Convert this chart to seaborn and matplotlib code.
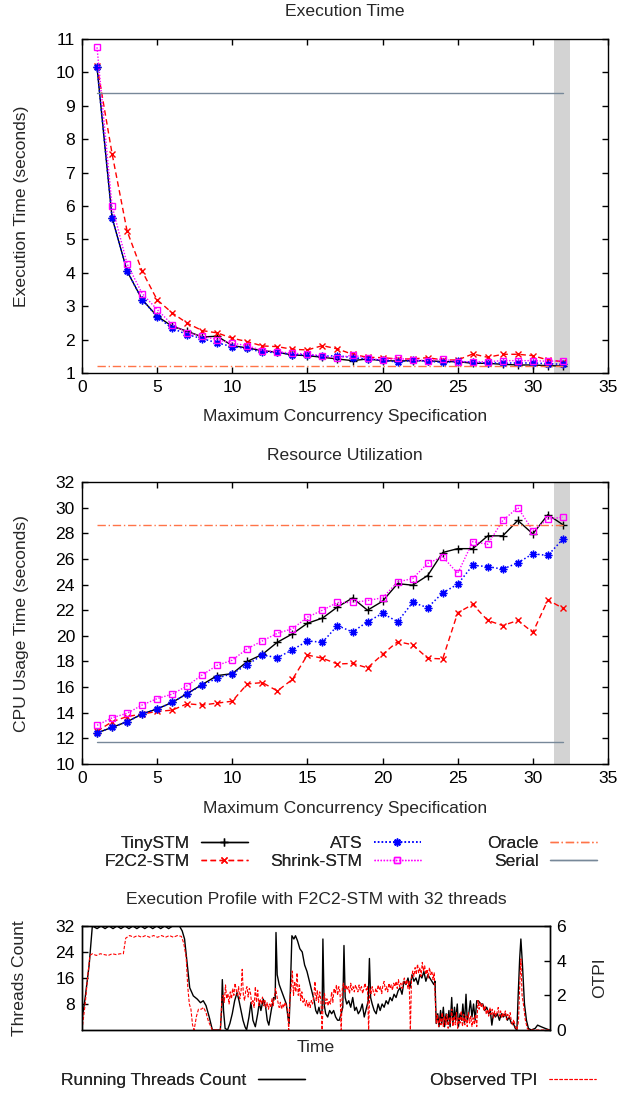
import matplotlib
matplotlib.use("Agg")
import matplotlib.pyplot as plt
import seaborn as sns

# ---------------- data ----------------
concurrency = list(range(1, 33))

exec_tinystm = [10.15, 5.65, 4.05, 3.2, 2.7, 2.4, 2.25, 2.08, 2.1, 1.82, 1.75, 1.67, 1.62, 1.54, 1.52,
                1.47, 1.42, 1.37, 1.42, 1.37, 1.36, 1.37, 1.37, 1.34, 1.34, 1.29, 1.29, 1.26, 1.24, 1.24,
                1.22, 1.21]
exec_f2c2 = [10.2, 7.57, 5.25, 4.05, 3.19, 2.8, 2.49, 2.27, 2.2, 2.04, 1.94, 1.81, 1.79, 1.71, 1.69,
             1.82, 1.72, 1.56, 1.47, 1.46, 1.42, 1.42, 1.46, 1.39, 1.39, 1.57, 1.47, 1.56, 1.56, 1.52,
             1.39, 1.34]
exec_ats = [10.15, 5.65, 4.05, 3.2, 2.68, 2.34, 2.15, 2.03, 1.9, 1.79, 1.74, 1.62, 1.62, 1.55, 1.55,
            1.5, 1.52, 1.46, 1.42, 1.38, 1.33, 1.38, 1.35, 1.32, 1.35, 1.32, 1.3, 1.3, 1.3, 1.3,
            1.28, 1.26]
exec_shrink = [10.75, 6.0, 4.27, 3.38, 2.9, 2.45, 2.21, 2.1, 2.0, 1.89, 1.82, 1.67, 1.64, 1.59, 1.57,
               1.51, 1.44, 1.54, 1.44, 1.39, 1.44, 1.39, 1.37, 1.42, 1.34, 1.34, 1.34, 1.37, 1.37, 1.37,
               1.35, 1.37]
exec_serial = 9.38
exec_oracle = 1.2

cpu_tinystm = [12.42, 12.86, 13.3, 13.9, 14.3, 14.8, 15.5, 16.2, 16.9, 17.05, 18.0, 18.55, 19.5, 20.15,
               20.98, 21.38, 22.25, 22.95, 22.0, 22.7, 24.07, 23.95, 24.7, 26.5, 26.8, 26.8, 27.8, 27.8,
               29.0, 27.95, 29.45, 28.67]
cpu_f2c2 = [12.55, 13.3, 13.7, 13.9, 14.1, 14.2, 14.7, 14.6, 14.75, 14.9, 16.25, 16.35, 15.7, 16.6,
            18.5, 18.25, 17.8, 17.85, 17.5, 18.55, 19.55, 19.3, 18.25, 18.2, 21.8, 22.45, 21.2, 20.8,
            21.2, 20.27, 22.8, 22.15]
cpu_ats = [12.42, 12.86, 13.3, 13.9, 14.3, 14.8, 15.5, 16.15, 16.7, 17.05, 17.75, 18.5, 18.3, 18.9,
           19.6, 19.5, 20.8, 20.3, 21.1, 21.75, 21.1, 22.6, 22.2, 23.35, 24.03, 25.5, 25.4, 25.2,
           25.7, 26.4, 26.27, 27.55]
cpu_shrink = [13.02, 13.6, 13.96, 14.6, 15.1, 15.45, 16.1, 16.95, 17.7, 18.1, 19.0, 19.6, 20.2, 20.55,
              21.45, 22.0, 22.6, 22.6, 22.75, 22.97, 24.2, 24.47, 25.65, 26.17, 24.87, 27.35, 27.14,
              29.0, 30.0, 28.2, 29.1, 29.26]
cpu_serial = 11.7
cpu_oracle = 28.63

# execution profile of F2C2-STM with 32 threads (time in sampling ticks)
profile_time_threads = [0, 8, 18, 26, 38, 48, 58, 68, 78, 88, 98, 108, 118, 128, 138, 148, 158, 168, 178,
                        188, 198, 208, 218, 228, 245, 252, 258, 265, 271, 280, 290, 298, 305, 312, 320,
                        328, 348, 351, 353, 356, 360, 366, 372, 378, 384, 390, 395, 400, 405, 410, 414,
                        420, 425, 430, 436, 442, 446, 450, 456, 462, 466, 470, 476, 482, 486, 488, 491,
                        496, 502, 508, 514, 518, 521, 524, 528, 533, 537, 542, 548, 554, 560, 566, 572,
                        578, 584, 588, 592, 596, 600, 604, 606, 609, 613, 618, 623, 628, 633, 638, 643,
                        647, 652, 656, 659, 662, 666, 671, 676, 681, 686, 690, 695, 700, 705, 710, 714,
                        720, 723, 726, 730, 735, 740, 745, 750, 755, 760, 765, 770, 775, 780, 785, 790,
                        795, 800, 805, 810, 815, 820, 825, 830, 835, 840, 845, 850, 855, 860, 865, 870,
                        875, 880, 885, 888, 891, 895, 898, 902, 905, 909, 912, 916, 919, 923, 926, 930,
                        933, 937, 940, 944, 947, 951, 955, 958, 962, 966, 969, 973, 977, 981, 985, 989,
                        993, 997, 1003, 1008, 1013, 1018, 1023, 1027, 1031, 1035, 1040, 1045, 1050, 1055,
                        1060, 1065, 1070, 1075, 1080, 1085, 1090, 1094, 1097, 1101, 1104, 1108, 1113,
                        1118, 1123, 1130, 1140, 1146, 1155, 1165, 1176]
running_threads = [3, 10, 20, 32, 31.2, 32, 31.2, 32, 31.2, 32, 31.2, 32, 31.2, 32, 31.2, 32, 31.2, 32,
                   31.2, 32, 31.2, 32, 31.2, 32, 32, 30.5, 28, 20, 13, 10.5, 9.5, 8.4, 9.0, 7.5, 4,
                   0, 0, 6, 15.5, 6, 0.5, 0, 2, 5, 9, 11.5, 9, 6, 3, 1, 0,
                   4, 8.5, 3, 1, 5, 8.5, 6, 9.5, 7, 3, 1.5, 6, 10, 9.5, 30, 17,
                   14, 12, 10, 8, 4, 2, 12, 29, 28, 29, 27.5, 25, 24, 20, 18, 15,
                   12, 9, 6, 5, 7, 5, 6, 28, 8, 5, 4, 6, 5, 6, 4, 3,
                   3, 5, 7, 26, 10, 8, 9, 7, 10, 6, 7, 5, 6, 8, 4, 6,
                   9, 22, 10, 8, 6, 5, 8, 6, 8, 7, 9, 8, 10, 9, 11, 10,
                   12, 13, 11, 15, 14, 16, 13, 17, 15, 16, 14, 17, 16, 18, 15, 17,
                   16, 15, 14, 15, 2, 5, 1, 6, 2, 7, 1, 5, 2, 6, 1, 10,
                   2, 7, 3, 8, 1, 5, 3, 8, 2, 11, 3, 5, 9, 4, 8, 3,
                   9, 9, 8, 8, 6, 7, 5, 6, 1.5, 5, 4, 5, 3, 5,
                   4, 5, 3, 4, 2, 2, 0.5, 0, 10, 22, 28, 20, 8,
                   3, 0.5, 0, 0.5, 1.5, 1, 0.5, 0]

# observed TPI: start-up ramp, two densely sampled phases (every 3 ticks), and the tail
tpi_ramp_time = [0, 8, 14, 20, 26, 36, 46, 56, 66, 76, 86, 96, 104, 110, 120, 130, 140, 150, 160, 170,
                 180, 190, 200, 210, 220, 230, 240, 250, 256, 262, 266, 270, 274, 278, 282, 288,
                 293, 300, 306, 312, 318, 324, 328, 348]
tpi_ramp = [0, 1.5, 3, 4.3, 4.4, 4.3, 4.4, 4.35, 4.3, 4.4, 4.35, 4.4, 4.4, 5.3, 5.45, 5.35, 5.45,
            5.35, 5.45, 5.35, 5.45, 5.35, 5.45, 5.35, 5.45, 5.35, 5.45, 5.4, 5.0, 4.2, 2.5, 1.5,
            1.2, 0.3, 0, 0.8, 1.2, 1.2, 1.3, 1.0, 0.5, 0.2, 0, 0]
tpi_phase_a_start = 352
tpi_phase_a = [1.8, 2.0, 1.6, 2.6, 1.8, 2.1, 1.5, 2.2, 1.8, 2.4, 2.0, 2.7, 2.3, 2.0, 2.5, 1.8,
               2.2, 3.5, 2.0, 1.7, 2.3, 2.5, 1.9, 2.4, 2.1, 1.5, 1.7, 1.3, 2.5, 1.6, 2.3, 1.4,
               1.8, 1.5, 1.9, 1.4, 1.7, 1.3, 1.6, 1.2, 1.5, 1.3, 1.8, 1.4, 1.9, 2.4, 2.0, 1.6,
               1.3, 1.6, 1.2, 1.5, 1.3, 1.6, 1.4, 1.2, 0, 1.8, 2.4, 3.4, 2.0, 2.8, 2.2, 3.3,
               2.0, 2.6, 1.7, 2.2, 1.6, 1.8, 1.4, 1.7, 1.3, 1.6, 1.3, 1.7, 1.5, 1.9, 2.8, 1.7,
               2.3, 1.6, 2.2, 1.7, 0, 1.8, 2.1, 1.5, 1.8, 1.4, 1.7, 1.5, 2.2, 1.6, 2.4, 2.1,
               2.6, 2.0, 2.5, 2.2, 0, 2.4, 2.7, 2.2, 2.6, 2.3, 2.5, 2.1, 2.7, 2.3, 2.5, 2.2,
               2.6, 2.4, 2.2, 2.6, 2.3, 2.5, 2.1, 2.4, 2.7, 2.3, 2.5, 0, 2.4, 2.1, 2.5, 2.2,
               2.0, 2.4, 2.2, 2.6, 2.3, 2.5, 2.1, 2.6, 2.8, 2.3, 2.5, 2.2, 2.7, 2.4, 2.6, 2.3,
               2.7, 2.5, 2.8, 2.4, 2.9, 2.5, 2.7, 2.4, 2.8, 3.0, 2.6, 2.9, 2.4, 2.8, 0, 3.0,
               3.4, 3.1, 3.6, 3.2, 3.8, 3.3, 3.6, 3.1, 3.9, 3.4, 3.7, 3.2, 3.5, 3.0, 3.6, 3.2,
               3.4, 2.9, 3.3]
tpi_phase_b_start = 891
tpi_phase_b = [0.4, 0.9, 0.2,
               0.7, 0.3, 1.0, 0.2, 0.8, 0.3, 0.9, 0.1, 0.7, 0.4, 1.2, 0.2, 0.8, 0.3, 1.0, 0.1,
               0.7, 0.4, 1.1, 0.2, 0.9, 0.3, 0.8, 0.2, 1.0, 0.4, 0.8, 0.2, 0.7, 0.3, 0.9, 0.2,
               1.7, 1.2, 1.6, 1.3, 1.5, 1.1, 1.4, 0.9, 1.2, 0.8, 1.3, 0.9, 1.2, 0.7, 1.1, 0.8,
               1.0, 1.3, 0.8, 1.1, 0.7, 1.0, 0.8, 1.1, 0.6, 0.9, 0.7, 1.0, 0.5]
tpi_tail_time = [1083, 1086, 1090, 1094, 1098, 1101, 1104, 1107, 1111, 1115, 1120, 1124, 1176]
tpi_tail = [0.3, 0.6, 0.2, 0, 0.5, 2.5, 4.1, 2.0, 1.4, 0.6, 0.1, 0, 0]

profile_time_tpi = (tpi_ramp_time
                    + [tpi_phase_a_start + 3 * i for i in range(len(tpi_phase_a))]
                    + [tpi_phase_b_start + 3 * i for i in range(len(tpi_phase_b))]
                    + tpi_tail_time)
observed_tpi = tpi_ramp + tpi_phase_a + tpi_phase_b + tpi_tail

# ---------------- style ----------------
FS = 12.6
sns.set_theme(style="ticks")
plt.rcParams["font.family"] = ["Liberation Sans", "DejaVu Sans"]
plt.rcParams["font.size"] = FS
plt.rcParams["axes.linewidth"] = 1.0
plt.rcParams["axes.edgecolor"] = "black"
plt.rcParams["xtick.color"] = "black"
plt.rcParams["ytick.color"] = "black"

W, H = 621, 1093
fig = plt.figure(figsize=(W / 100, H / 100), dpi=100)


def box(left, top, right, bottom):
    return [left / W, 1 - bottom / H, (right - left) / W, (bottom - top) / H]


C_TINY = "black"
C_F2C2 = "#ff0000"
C_ATS = "#0000ff"
C_SHRINK = "#ff00ff"
C_ORACLE = "#ff7448"
C_SERIAL = "#778899"

series_style = dict(
    tiny=dict(color=C_TINY, mec=C_TINY, linestyle="-", marker="+", markersize=6, mew=1.0, lw=1.0),
    f2c2=dict(color=C_F2C2, mec=C_F2C2, linestyle=(0, (4, 2.5)), marker="x", markersize=4.5,
              mew=1.0, lw=1.0),
    ats=dict(color=C_ATS, mec=C_ATS, linestyle=(0, (1, 1.5)), marker=(8, 2, 0), markersize=5.5,
             mew=1.0, lw=1.1),
    shrink=dict(color=C_SHRINK, mec=C_SHRINK, linestyle=(0, (1, 1.2)), marker="s",
                markersize=5, mfc="none", mew=1.0, lw=1.0),
)


def style_axes(ax):
    ax.tick_params(direction="in", length=4, width=1, top=True, right=True, labelsize=FS,
                   pad=5)
    for s in ax.spines.values():
        s.set_visible(True)
        s.set_linewidth(1.0)


def draw_panel(ax, tiny, f2c2, ats, shrink, serial, oracle):
    ax.axvspan(31.4, 32.5, color="#d3d3d3", lw=0, zorder=0)
    sns.lineplot(x=concurrency, y=tiny, ax=ax, label="TinySTM", sort=False, estimator=None,
                 **series_style["tiny"])
    sns.lineplot(x=concurrency, y=f2c2, ax=ax, label="F2C2-STM", sort=False, estimator=None,
                 **series_style["f2c2"])
    sns.lineplot(x=concurrency, y=ats, ax=ax, label="ATS", sort=False, estimator=None,
                 **series_style["ats"])
    sns.lineplot(x=concurrency, y=shrink, ax=ax, label="Shrink-STM", sort=False, estimator=None,
                 **series_style["shrink"])
    sns.lineplot(x=[concurrency[0], concurrency[-1]], y=[oracle, oracle], ax=ax, label="Oracle",
                 color=C_ORACLE, linestyle=(0, (6, 2, 1, 2)), lw=1.0, estimator=None)
    sns.lineplot(x=[concurrency[0], concurrency[-1]], y=[serial, serial], ax=ax, label="Serial",
                 color=C_SERIAL, linestyle="-", lw=1.0, estimator=None)
    ax.set_xlim(0, 35)
    ax.set_xticks(range(0, 36, 5))
    style_axes(ax)


# ---- Execution time ----
ax1 = fig.add_axes(box(82, 39, 608, 373))
draw_panel(ax1, exec_tinystm, exec_f2c2, exec_ats, exec_shrink, exec_serial, exec_oracle)
ax1.set_ylim(1, 11)
ax1.set_yticks(range(1, 12))
ax1.get_legend().remove()
ax1.set_xlabel("Maximum Concurrency Specification", fontsize=FS, va="center")
ax1.xaxis.set_label_coords(0.5, (373 - 417) / 334)
ax1.set_ylabel("Execution Time (seconds)", fontsize=FS, va="center")
ax1.yaxis.set_label_coords((22 - 82) / 526, 0.5)
fig.text(345 / W, 1 - 12 / H, "Execution Time", ha="center", va="center", fontsize=FS)

# ---- Resource utilization ----
ax2 = fig.add_axes(box(82, 482, 608, 764))
draw_panel(ax2, cpu_tinystm, cpu_f2c2, cpu_ats, cpu_shrink, cpu_serial, cpu_oracle)
ax2.set_ylim(10, 32)
ax2.set_yticks(range(10, 33, 2))
handles, labels = ax2.get_legend_handles_labels()
ax2.get_legend().remove()
ax2.set_xlabel("Maximum Concurrency Specification", fontsize=FS, va="center")
ax2.xaxis.set_label_coords(0.5, (764 - 808) / 282)
ax2.set_ylabel("CPU Usage Time (seconds)", fontsize=FS, va="center")
ax2.yaxis.set_label_coords((22 - 82) / 526, 0.5)
fig.text(345 / W, 1 - 456 / H, "Resource Utilization", ha="center", va="center", fontsize=FS)

# shared legend: three columns, label on the left of each sample
legend_cols = [(0, 1, 248), (2, 3, 421), (4, 5, 597)]
for i, j, xr in legend_cols:
    leg = fig.legend([handles[i], handles[j]], [labels[i], labels[j]],
                     loc="upper right", bbox_to_anchor=(xr / W, 1 - 836 / H),
                     markerfirst=False, frameon=False, borderpad=0, borderaxespad=0,
                     handlelength=2.7, handletextpad=0.65, labelspacing=0.15, fontsize=FS)
    fig.add_artist(leg)

# ---- Execution profile ----
ax3 = fig.add_axes(box(82, 926, 549.5, 1030))
sns.lineplot(x=profile_time_threads, y=running_threads, ax=ax3, color="black", lw=1.0,
             sort=False, estimator=None, label="Running Threads Count")
ax3.set_xlim(0, 1176)
ax3.set_ylim(0, 32)
ax3.set_yticks([8, 16, 24, 32])
ax3.set_xticks([])
ax3.tick_params(direction="in", length=4, width=1, labelsize=FS, pad=5)
ax3.set_xlabel("Time", fontsize=FS, va="center")
ax3.xaxis.set_label_coords(0.5, (1030 - 1047) / 104)
ax3.set_ylabel("Threads Count", fontsize=FS, va="center")
ax3.yaxis.set_label_coords((20 - 82) / 467.5, 0.5)

ax4 = ax3.twinx()
sns.lineplot(x=profile_time_tpi, y=observed_tpi, ax=ax4, color="#ff0000", lw=0.8,
             linestyle=(0, (3, 1.5)), sort=False, estimator=None, label="Observed TPI")
ax4.set_ylim(0, 6)
ax4.set_yticks([0, 2, 4, 6])
ax4.tick_params(direction="in", length=4, width=1, labelsize=FS, pad=5)
ax4.set_ylabel("OTPI", fontsize=FS, va="center")
ax4.yaxis.set_label_coords((600 - 82) / 467.5, 0.5)
for s in ax4.spines.values():
    s.set_visible(True)
fig.text(316 / W, 1 - 899 / H, "Execution Profile with F2C2-STM with 32 threads",
         ha="center", va="center", fontsize=FS)

h3, l3 = ax3.get_legend_handles_labels()
h4, l4 = ax4.get_legend_handles_labels()
ax3.get_legend().remove()
ax4.get_legend().remove()
for hh, ll, xr in [(h3, l3, 305), (h4, l4, 596)]:
    leg = fig.legend(hh, ll, loc="center right", bbox_to_anchor=(xr / W, 1 - 1080 / H),
                     markerfirst=False, frameon=False, borderpad=0, borderaxespad=0,
                     handlelength=2.7, handletextpad=0.65, fontsize=FS)
    fig.add_artist(leg)

fig.savefig("out.png", dpi=100)
